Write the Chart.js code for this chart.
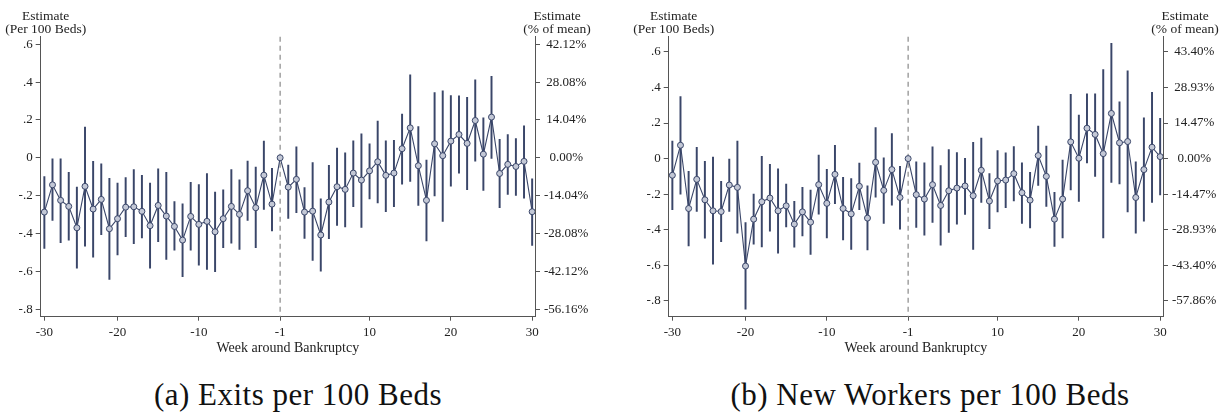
<!DOCTYPE html>
<html>
<head>
<meta charset="utf-8">
<script src="https://cdn.jsdelivr.net/npm/chart.js@4.4.1/dist/chart.umd.min.js"></script>
<style>
  body { margin: 0; background: #fff; width: 1220px; height: 414px; position: relative; overflow: hidden; }
  canvas { position: absolute; top: 0; }
  #chartA { left: 0; }
  #chartB { left: 610px; }
  .caption { position: absolute; top: 377px; font-family: "Liberation Serif", serif; font-size: 31px; letter-spacing: 0.5px; color: #111; white-space: nowrap; transform: translateX(-50%); }
</style>
</head>
<body>
<canvas id="chartA" width="610" height="360"></canvas>
<canvas id="chartB" width="610" height="360"></canvas>
<div class="caption" style="left:298px">(a) Exits per 100 Beds</div>
<div class="caption" style="left:930px">(b) New Workers per 100 Beds</div>

<script>
// --- datos ---
const weeks = [-30,-29,-28,-27,-26,-25,-24,-23,-22,-21,-20,-19,-18,-17,-16,-15,-14,-13,-12,-11,
  -10,-9,-8,-7,-6,-5,-4,-3,-2,-1,0,1,2,3,4,5,6,7,8,9,10,11,12,13,14,15,16,17,18,19,20,
  21,22,23,24,25,26,27,28,29,30];

const xTickValues = [-30, -21, -11, -1, 10, 20, 30];
const xTickLabels = ["-30", "-20", "-10", "-1", "10", "20", "30"];

const yTickValues = [-0.8, -0.6, -0.4, -0.2, 0, 0.2, 0.4, 0.6];
const yTickLabels = ["-.8", "-.6", "-.4", "-.2", "0", ".2", ".4", ".6"];

// (a) salidas
const exitsEst = [-0.287,-0.143,-0.225,-0.257,-0.370,-0.151,-0.271,-0.220,-0.375,-0.322,
  -0.261,-0.259,-0.283,-0.359,-0.252,-0.308,-0.363,-0.435,-0.310,-0.352,
  -0.336,-0.391,-0.322,-0.257,-0.299,-0.174,-0.264,-0.092,-0.245,0,
  -0.155,-0.114,-0.287,-0.282,-0.408,-0.234,-0.153,-0.167,-0.081,-0.118,
  -0.069,-0.021,-0.093,-0.081,0.048,0.158,-0.042,-0.225,0.074,0.011,
  0.088,0.123,0.076,0.197,0.019,0.215,-0.083,-0.035,-0.046,-0.019,-0.285];
const exitsLo = [-0.479,-0.331,-0.449,-0.435,-0.583,-0.467,-0.525,-0.407,-0.643,-0.514,
  -0.417,-0.454,-0.424,-0.583,-0.444,-0.537,-0.488,-0.629,-0.488,-0.567,
  -0.590,-0.602,-0.475,-0.452,-0.484,-0.331,-0.475,-0.273,-0.387,null,
  -0.320,-0.290,-0.426,-0.542,-0.599,-0.428,-0.357,-0.366,-0.259,-0.368,
  -0.217,-0.239,-0.285,-0.259,-0.139,-0.125,-0.252,-0.440,-0.201,-0.336,
  -0.150,-0.081,-0.169,-0.018,-0.173,-0.004,-0.264,-0.194,-0.199,-0.213,-0.463];
const exitsHi = [-0.100,-0.005,-0.005,-0.077,-0.155,0.162,-0.019,-0.032,-0.109,-0.134,
  -0.104,-0.062,-0.093,-0.134,-0.058,-0.077,-0.232,-0.243,-0.130,-0.141,
  -0.083,-0.181,-0.169,-0.063,-0.116,-0.018,-0.049,0.088,-0.056,null,
  -0.039,0.058,-0.158,-0.026,-0.217,-0.040,0.051,0.026,0.090,0.127,
  0.074,0.194,0.090,0.092,0.231,0.438,0.165,-0.012,0.345,0.354,
  0.329,0.327,0.320,0.412,0.211,0.431,0.097,0.123,0.102,0.169,-0.111];
const exitsPctLabels = ["-56.16%", "-42.12%", "-28.08%", "-14.04%", "0.00%", "14.04%", "28.08%", "42.12%"];

// (b) nuevos trabajadores
const workersEst = [-0.094,0.075,-0.281,-0.117,-0.232,-0.294,-0.298,-0.149,-0.162,-0.605,
  -0.341,-0.243,-0.222,-0.294,-0.266,-0.369,-0.300,-0.358,-0.147,-0.252,
  -0.089,-0.281,-0.311,-0.156,-0.335,-0.021,-0.179,-0.062,-0.219,0,
  -0.203,-0.228,-0.147,-0.264,-0.181,-0.166,-0.154,-0.209,-0.066,-0.239,
  -0.126,-0.121,-0.085,-0.192,-0.234,0.017,-0.100,-0.341,-0.228,0.094,
  0.002,0.171,0.136,0.028,0.254,0.089,0.096,-0.219,-0.062,0.064,0.011];
const workersLo = [-0.288,-0.200,-0.492,-0.298,-0.448,-0.595,-0.467,-0.298,-0.420,-0.848,
  -0.482,-0.497,-0.409,-0.533,-0.384,-0.499,-0.435,-0.539,-0.313,-0.446,
  -0.254,-0.458,-0.511,-0.288,-0.514,-0.217,-0.365,-0.262,-0.398,null,
  -0.388,-0.431,-0.360,-0.488,-0.416,-0.369,-0.315,-0.512,-0.247,-0.394,
  -0.300,-0.277,-0.239,-0.365,-0.390,-0.151,-0.269,-0.494,-0.446,-0.177,
  -0.241,-0.024,-0.100,-0.446,-0.134,-0.143,-0.300,-0.420,-0.352,-0.247,-0.205];
const workersHi = [0.098,0.349,-0.072,0.064,-0.015,0.008,-0.128,0.000,0.098,-0.360,
  -0.200,0.013,-0.032,-0.058,-0.143,-0.241,-0.162,-0.177,0.019,-0.060,
  0.075,-0.106,-0.113,-0.026,-0.154,0.175,0.004,0.141,-0.043,null,
  -0.019,-0.024,0.066,-0.040,0.051,0.034,0.002,0.092,0.115,-0.085,
  0.045,0.032,0.068,-0.024,-0.077,0.183,0.070,-0.190,-0.009,0.362,
  0.245,0.365,0.365,0.501,0.648,0.320,0.494,-0.019,0.230,0.373,0.226];
const workersPctLabels = ["-57.86%", "-43.40%", "-28.93%", "-14.47%", "0.00%", "14.47%", "28.93%", "43.40%"];

// ===========================
// estilos
// ===========================
const NAVY = "#3a4669";
const AXIS = "#555";
const FONT = "'Liberation Serif', serif";

// linea punteada en la semana -1 y titulos de los ejes
const extrasPlugin = {
  id: "extras",
  beforeDatasetsDraw(chart) {
    const { ctx, chartArea, scales } = chart;
    const x = scales.x.getPixelForValue(-1);
    ctx.save();
    ctx.strokeStyle = "#8a8a8a";
    ctx.lineWidth = 1.2;
    ctx.setLineDash([5, 4]);
    ctx.beginPath();
    ctx.moveTo(x, chartArea.top);
    ctx.lineTo(x, chartArea.bottom);
    ctx.stroke();
    ctx.restore();
  },
  afterDraw(chart) {
    const { ctx, chartArea } = chart;
    ctx.save();
    ctx.fillStyle = "#222";
    ctx.font = "13.5px " + FONT;
    ctx.textAlign = "center";
    ctx.textBaseline = "middle";
    ctx.fillText("Estimate", chartArea.left + 5, 16);
    ctx.fillText("(Per 100 Beds)", chartArea.left + 5, 29);
    ctx.fillText("Estimate", chartArea.right + 22, 16);
    ctx.fillText("(% of mean)", chartArea.right + 22, 29);
    ctx.restore();
  }
};

function renderPanel(canvasId, est, lo, hi, yMin, yMax, pctLabels, leftW, rightW) {
  const ctx = document.getElementById(canvasId).getContext("2d");

  const points = weeks.map((w, i) => ({ x: w, y: est[i] }));
  const bars = [];
  weeks.forEach((w, i) => {
    if (lo[i] !== null) bars.push({ x: w, y: [lo[i], hi[i]] });
  });

  return new Chart(ctx, {
    type: "bar",
    data: {
      datasets: [
        {
          type: "line",
          data: points,
          borderColor: NAVY,
          borderWidth: 1.1,
          pointRadius: 3,
          pointBorderWidth: 1,
          pointBackgroundColor: "#c3c8d6",
          pointBorderColor: NAVY,
          tension: 0,
          order: 1
        },
        {
          type: "bar",
          data: bars,
          backgroundColor: NAVY,
          borderWidth: 0,
          barThickness: 1.3,
          order: 2
        }
      ]
    },
    options: {
      responsive: false,
      animation: false,
      devicePixelRatio: 1,
      layout: { padding: { top: 36.7, left: 0, right: 0, bottom: 0 } },
      plugins: { legend: { display: false }, tooltip: { enabled: false } },
      scales: {
        x: {
          type: "linear",
          min: -30.45,
          max: 30.35,
          offset: false,
          afterBuildTicks: s => { s.ticks = xTickValues.map(v => ({ value: v })); },
          afterFit: s => { s.height = 43.3; },
          ticks: {
            autoSkip: false, maxRotation: 0, padding: 4, color: "#222",
            font: { family: FONT, size: 13 },
            callback: (v, i) => xTickLabels[i]
          },
          grid: { drawOnChartArea: false, drawTicks: true, tickLength: 4, color: AXIS, offset: false },
          border: { display: true, color: AXIS, width: 1 },
          title: {
            display: true, text: "Week around Bankruptcy", color: "#222",
            font: { family: FONT, size: 14 }, padding: { top: 0, bottom: 3 }
          }
        },
        y: {
          position: "left",
          min: yMin,
          max: yMax,
          afterBuildTicks: s => { s.ticks = yTickValues.map(v => ({ value: v })); },
          afterFit: s => { s.width = leftW; },
          ticks: {
            padding: 3, color: "#222",
            font: { family: FONT, size: 13 },
            callback: (v, i) => yTickLabels[i]
          },
          grid: { drawOnChartArea: false, drawTicks: true, tickLength: 5, color: AXIS },
          border: { display: true, color: AXIS, width: 1 }
        },
        y2: {
          position: "right",
          min: yMin,
          max: yMax,
          afterBuildTicks: s => { s.ticks = yTickValues.map(v => ({ value: v })); },
          afterFit: s => { s.width = rightW; },
          ticks: {
            padding: 4, color: "#222", crossAlign: "center",
            font: { family: FONT, size: 13 },
            callback: (v, i) => pctLabels[i]
          },
          grid: { drawOnChartArea: false, drawTicks: true, tickLength: 5, color: AXIS },
          border: { display: true, color: AXIS, width: 1 }
        }
      }
    },
    plugins: [extrasPlugin]
  });
}

renderPanel("chartA", exitsEst, exitsLo, exitsHi, -0.84, 0.64, exitsPctLabels, 40.7, 75);
renderPanel("chartB", workersEst, workersLo, workersHi, -0.89, 0.686, workersPctLabels, 58.7, 57);
</script>
</body>
</html>
